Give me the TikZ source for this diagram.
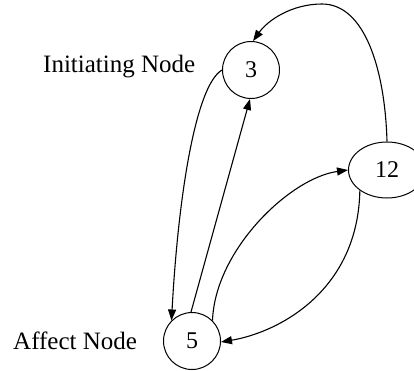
\documentclass[tikz,border=0pt]{standalone}
\usepackage{fontspec}
\setmainfont{Liberation Serif}
\usetikzlibrary{arrows.meta,shapes.geometric}
\begin{document}
\begin{tikzpicture}[x=1pt,y=-1pt,
  vertex/.style={draw,circle,minimum size=57pt,inner sep=0pt,line width=1pt,
    font=\fontsize{24}{28}\selectfont},
  ovalvertex/.style={draw,ellipse,minimum width=77pt,minimum height=56pt,inner sep=0pt,
    line width=1pt,font=\fontsize{24}{28}\selectfont},
  caption/.style={anchor=base west,inner sep=0pt,font=\fontsize{25}{30}\selectfont},
  link/.style={line width=1.1pt,-{Triangle[length=11pt,width=8pt]}}]
  \clip (0,0) rectangle (414,370);
  \fill[white] (0,0) rectangle (414,370);

  % the three nodes
  \node[vertex] (n3) at (251,70) {3};
  \node[vertex] (n5) at (192,341) {5};
  \node[ovalvertex] (n12) at (387,170) {12};

  % labels
  \node[caption] (lblinit) at (43,72) {Initiating Node};
  \node[caption] (lblaff) at (13,349) {Affect Node};

  % connectors
  \draw[link] (n3.180) .. controls (195,86) and (178,200) .. (n5.135);
  \draw[link] (n5.92) -- (n3.268);
  \draw[link] (n5.45) .. controls (215,250) and (290,178) .. (n12.180);
  \draw[link] (n12.217) .. controls (358,290) and (280,332) .. (n5.-2);
  \draw[link] (n12.90) .. controls (385,70) and (365,4) .. (322,4)
    .. controls (292,4) and (268,20) .. (n3.86);
\end{tikzpicture}
\end{document}
